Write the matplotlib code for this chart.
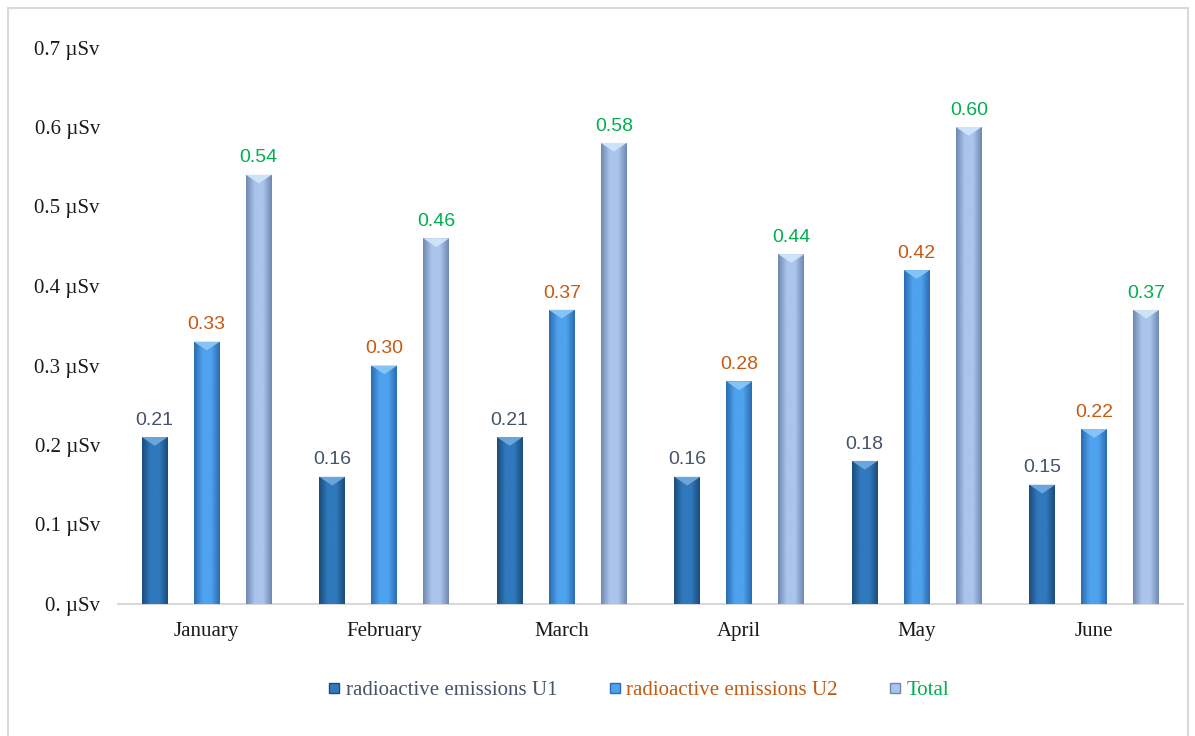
import numpy as np
import matplotlib
matplotlib.use('Agg')
import matplotlib.pyplot as plt
from matplotlib.patches import Polygon, Rectangle
from matplotlib.colors import LinearSegmentedColormap
from matplotlib.lines import Line2D

months = ['January', 'February', 'March', 'April', 'May', 'June']
u1 = [0.21, 0.16, 0.21, 0.16, 0.18, 0.15]
u2 = [0.33, 0.30, 0.37, 0.28, 0.42, 0.22]
total = [0.54, 0.46, 0.58, 0.44, 0.60, 0.37]
series_names = ['radioactive emissions U1', 'radioactive emissions U2', 'Total']
yticks = [0.0, 0.1, 0.2, 0.3, 0.4, 0.5, 0.6, 0.7]
ytick_labels = ['0. µSv', '0.1 µSv', '0.2 µSv', '0.3 µSv', '0.4 µSv', '0.5 µSv', '0.6 µSv', '0.7 µSv']

# edge, middle, bevel colour per series
bar_styles = [
    ('#1b4c7c', '#3079bd', '#6aa6dc'),
    ('#2a6cb0', '#4ea2ee', '#86c4f6'),
    ('#7088b0', '#a9c5ec', '#d0e2f7'),
]
label_colors = ['#44546a', '#c55a11', '#00b050']

serif = 'Liberation Serif'
sans = 'Liberation Sans'

fig = plt.figure(figsize=(11.95, 7.36), dpi=100)
ax = fig.add_axes([118 / 1195, 132 / 736, 1065 / 1195, 556.5 / 736])

# chart border
fig.add_artist(Rectangle((8 / 1195, -0.01), 1180 / 1195, 1.0 - 8 / 736 + 0.01,
                         transform=fig.transFigure, fill=False,
                         edgecolor='#d9d9d9', linewidth=1.5))

x = np.arange(len(months))
width = 0.146
step = 0.293
bevel = 0.011

for i, (vals, (c_edge, c_mid, c_top)) in enumerate(zip([u1, u2, total], bar_styles)):
    bars = ax.bar(x + (i - 1) * step, vals, width, color=c_mid, linewidth=0, zorder=2)
    cmap = LinearSegmentedColormap.from_list('g%d' % i, [c_edge, c_mid, c_mid, c_edge])
    grad = np.linspace(0, 1, 64).reshape(1, -1)
    for b in bars:
        x0, w, h = b.get_x(), b.get_width(), b.get_height()
        im = ax.imshow(grad, cmap=cmap, aspect='auto', extent=(x0, x0 + w, 0, h),
                       zorder=3, interpolation='bilinear')
        im.set_clip_path(b)
        tri = Polygon([(x0, h), (x0 + w, h), (x0 + w * 0.5, h - bevel)],
                      closed=True, facecolor=c_top, edgecolor='none', zorder=4)
        ax.add_patch(tri)
        ax.annotate('%.2f' % h, (x0 + w / 2, h), xytext=(0, 6), textcoords='offset points',
                    ha='center', va='bottom', fontsize=14, family=sans,
                    color=label_colors[i])

ax.set_xlim(-0.5, len(months) - 0.5)
ax.set_ylim(0, 0.7)
ax.set_xticks(x)
ax.set_xticklabels(months, family=serif, fontsize=15, color='#1a1a1a')
ax.set_yticks(yticks)
ax.set_yticklabels(ytick_labels, family=serif, fontsize=15, color='#1a1a1a')
ax.tick_params(length=0)
ax.tick_params(axis='x', pad=13)
ax.tick_params(axis='y', pad=13)
for s in ['top', 'right', 'left']:
    ax.spines[s].set_visible(False)
ax.spines['bottom'].set_color('#d9d9d9')
ax.spines['bottom'].set_linewidth(1.5)

handles = [Line2D([], [], marker='s', linestyle='none', markersize=7.5,
                  markerfacecolor=st[1], markeredgecolor=st[0]) for st in bar_styles]
leg = fig.legend(handles, series_names, loc='center', bbox_to_anchor=(638 / 1195, 1 - 690 / 736),
                 ncol=3, frameon=False, handlelength=0.7, handletextpad=0.2,
                 columnspacing=2.4, prop={'family': serif, 'size': 15})
for t, c in zip(leg.get_texts(), label_colors):
    t.set_color(c)

fig.savefig('out.png', dpi=100)
